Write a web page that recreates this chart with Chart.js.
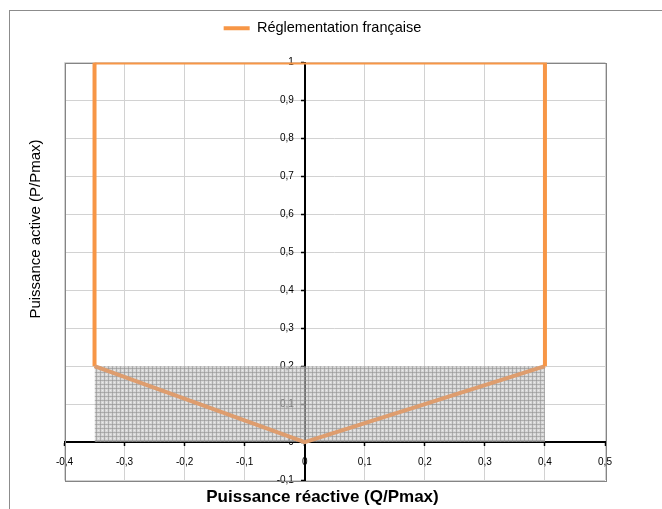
<!DOCTYPE html>
<html>
<head>
<meta charset="utf-8">
<script src="https://cdn.jsdelivr.net/npm/chart.js@4/dist/chart.umd.min.js"></script>
<style>
  html, body { margin: 0; padding: 0; background: #ffffff; }
  #wrap { position: relative; width: 662px; height: 509px; overflow: hidden; }
  #frame { position: absolute; left: 9px; top: 10px; width: 720px; height: 600px; border: 1px solid #8c8c8c; box-sizing: border-box; }
  #c { position: absolute; left: 0; top: 0; }
</style>
</head>
<body>
<div id="wrap">
  <div id="frame"></div>
  <canvas id="c" width="662" height="509"></canvas>
</div>
<script>
// ---- data ----
const seriesName = 'Réglementation française';
const envelopeQ = [-0.35, -0.35, 0, 0.4, 0.4, -0.35];
const envelopeP = [1, 0.2, 0, 0.2, 1, 1];
const zoneQ = [-0.35, 0.4];
const zoneP = [0.2, 0.2];
const qTicks = [-0.4, -0.3, -0.2, -0.1, 0, 0.1, 0.2, 0.3, 0.4, 0.5];
const pTicks = [-0.1, 0, 0.1, 0.2, 0.3, 0.4, 0.5, 0.6, 0.7, 0.8, 0.9, 1];
const xTitle = 'Puissance réactive (Q/Pmax)';
const yTitle = 'Puissance active (P/Pmax)';

const ORANGE = '#F79646';
const ORANGE_MUTED = '#DE9D6E';
const FONT = '"Liberation Sans", Arial, sans-serif';

const canvas = document.getElementById('c');
const ctx = canvas.getContext('2d');

function makeHatch() {
  const t = document.createElement('canvas');
  t.width = 4; t.height = 4;
  const g = t.getContext('2d');
  g.fillStyle = 'rgba(188,188,188,0.6)'; g.fillRect(0, 0, 4, 4);
  g.fillStyle = 'rgba(147,147,147,0.6)'; g.fillRect(0, 0, 4, 1); g.fillRect(0, 0, 1, 4);
  g.clearRect(2, 2, 1, 1);
  g.fillStyle = 'rgba(222,222,222,0.6)'; g.fillRect(2, 2, 1, 1);
  return ctx.createPattern(t, 'repeat');
}

const fmt = v => String(Math.round(v * 10) / 10).replace('.', ',');

const decorPlugin = {
  id: 'decor',
  beforeDatasetsDraw(chart) {
    const a = chart.chartArea;
    const c = chart.ctx;
    c.save();
    c.strokeStyle = '#858585';
    c.lineWidth = 1;
    c.strokeRect(Math.round(a.left) + 0.5, Math.round(a.top) + 0.5,
                 Math.round(a.right - a.left), Math.round(a.bottom - a.top));
    c.restore();
  },
  afterDraw(chart) {
    const c = chart.ctx;
    c.save();
    c.translate(36, 229);
    c.rotate(-Math.PI / 2);
    c.fillStyle = '#000';
    c.font = '15px ' + FONT;
    c.textAlign = 'center';
    c.textBaseline = 'middle';
    c.fillText(yTitle, 0, 0);
    c.restore();
  }
};

const tickFont = { size: 10, family: FONT };

new Chart(ctx, {
  type: 'scatter',
  data: {
    datasets: [
      {
        label: seriesName,
        data: envelopeQ.map((q, i) => ({x: q, y: envelopeP[i]})),
        showLine: true,
        borderColor: ORANGE,
        backgroundColor: ORANGE,
        borderWidth: 4,
        pointRadius: 0,
        fill: false,
        order: 1,
        xAxisID: 'x', yAxisID: 'y',
        segment: {
          borderColor: s => (s.p0.parsed.y <= 0.2 && s.p1.parsed.y <= 0.2) ? ORANGE_MUTED : ORANGE
        }
      },
      {
        label: 'zone',
        data: zoneQ.map((q, i) => ({x: q, y: zoneP[i]})),
        showLine: true,
        borderWidth: 0,
        borderColor: 'rgba(0,0,0,0)',
        backgroundColor: makeHatch(),
        pointRadius: 0,
        fill: {value: 0},
        order: 2,
        xAxisID: 'x', yAxisID: 'y'
      }
    ]
  },
  options: {
    responsive: false,
    animation: false,
    devicePixelRatio: 1,
    layout: { padding: { left: 40, right: 57, top: 6, bottom: 0 } },
    scales: {
      x: {
        type: 'linear', axis: 'x',
        position: { y: 0 },
        min: -0.4, max: 0.5,
        afterBuildTicks: s => { s.ticks = qTicks.map(v => ({value: v})); },
        ticks: {
          callback: v => fmt(v),
          font: tickFont,
          color: '#000',
          padding: 11,
          maxRotation: 0,
          autoSkip: false
        },
        grid: { color: '#d2d2d2', lineWidth: 1, tickColor: '#000', tickLength: 3, tickWidth: 1.5 },
        border: { color: '#000', width: 2 }
      },
      y: {
        type: 'linear', axis: 'y',
        position: { x: 0 },
        min: -0.1, max: 1,
        afterBuildTicks: s => { s.ticks = pTicks.map(v => ({value: v})); },
        ticks: { display: false },
        grid: { color: '#d2d2d2', lineWidth: 1, tickColor: '#000', tickLength: 3, tickWidth: 1.5 },
        border: { color: '#000', width: 2 }
      },
      yLabels: {
        type: 'linear', axis: 'y',
        position: { x: -0.018 },
        min: -0.1, max: 1,
        afterBuildTicks: s => { s.ticks = pTicks.map(v => ({value: v})); },
        ticks: {
          callback: v => fmt(v),
          font: tickFont,
          color: '#000',
          autoSkip: false
        },
        grid: { display: false, drawTicks: false },
        border: { display: false }
      },
      padTop: {
        type: 'linear', axis: 'x', position: 'top', display: true,
        ticks: { display: false }, grid: { display: false, drawTicks: false }, border: { display: false },
        afterFit: s => { s.height = 17; }
      },
      padLeft: {
        type: 'linear', axis: 'y', position: 'left', display: true,
        ticks: { display: false }, grid: { display: false, drawTicks: false }, border: { display: false },
        afterFit: s => { s.width = 24.5; }
      }
    },
    plugins: {
      legend: {
        position: 'top',
        labels: {
          font: { size: 14.5, family: FONT },
          color: '#000',
          boxWidth: 26,
          boxHeight: 4,
          padding: 15,
          filter: item => item.datasetIndex === 0,
          generateLabels: chart => {
            const items = Chart.defaults.plugins.legend.labels.generateLabels(chart);
            items.forEach(it => { it.lineWidth = 0; it.fillStyle = ORANGE; it.strokeStyle = ORANGE; });
            return items;
          }
        }
      },
      title: {
        display: true,
        position: 'bottom',
        text: xTitle,
        color: '#000',
        font: { size: 17, weight: 'bold', family: FONT },
        padding: { top: 6.8, bottom: 1.8 }
      },
      tooltip: { enabled: false }
    }
  },
  plugins: [decorPlugin]
});
</script>
</body>
</html>
